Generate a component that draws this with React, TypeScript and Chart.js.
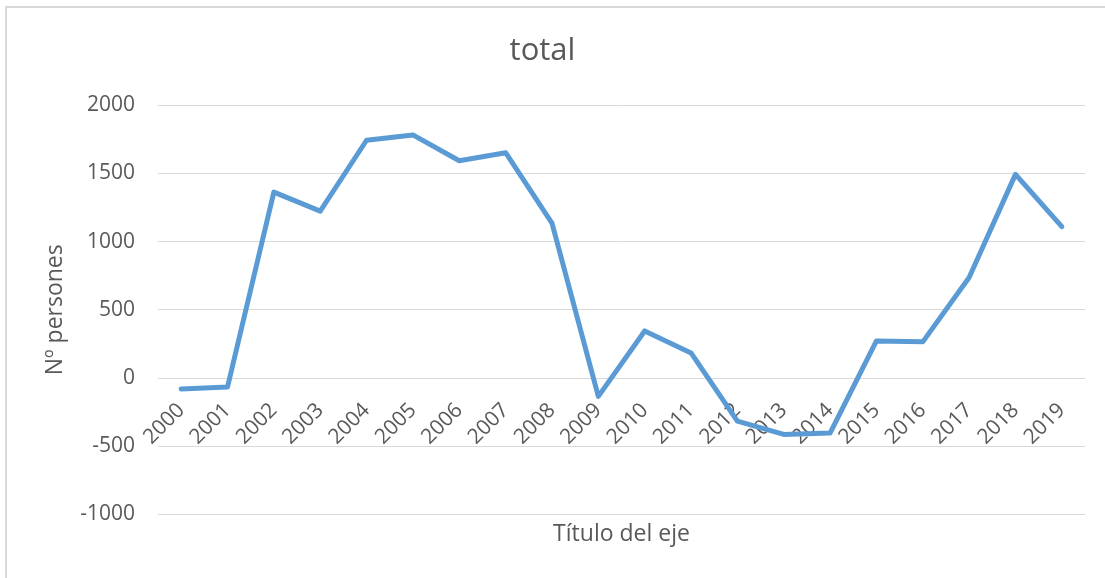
import React, { useEffect, useRef } from "react";
import { Chart, registerables } from "chart.js";

Chart.register(...registerables);

const categories = ["2000","2001","2002","2003","2004","2005","2006","2007","2008","2009","2010","2011","2012","2013","2014","2015","2016","2017","2018","2019"];
const totalValues = [-80, -66, 1363, 1223, 1743, 1782, 1593, 1652, 1135, -135, 345, 184, -316, -414, -404, 272, 265, 737, 1493, 1110];
const chartTitle = "total";
const yAxisTitle = "Nº persones";
const xAxisTitle = "Título del eje";
const yMin = -1000;
const yMax = 2000;
const yStep = 500;

const FONT = "'Open Sans', sans-serif";
const TEXT = "#595959";
const GRID = "#D9D9D9";

export default function App() {
  const ref = useRef<HTMLCanvasElement | null>(null);

  useEffect(() => {
    if (!ref.current) return;
    const chart = new Chart(ref.current, {
      type: "line",
      data: {
        labels: categories,
        datasets: [
          {
            label: chartTitle,
            data: totalValues,
            borderColor: "#5B9BD5",
            backgroundColor: "#5B9BD5",
            borderWidth: 5,
            pointRadius: 0,
            borderJoinStyle: "round",
            borderCapStyle: "round",
            tension: 0,
            xAxisID: "x",
          },
        ],
      },
      options: {
        animation: false,
        responsive: false,
        maintainAspectRatio: false,
        layout: { padding: { left: 0, right: 20, top: 0, bottom: 30 } },
        plugins: {
          legend: { display: false },
          tooltip: { enabled: false },
          title: {
            display: true,
            text: chartTitle,
            color: TEXT,
            font: { family: FONT, size: 31, weight: "normal" },
            padding: { top: 33, bottom: 35 },
          },
        },
        scales: {
          x: {
            type: "category",
            position: { y: 0 } as any,
            offset: true,
            grid: { display: false, drawTicks: false },
            border: { display: false },
            ticks: {
              color: TEXT,
              font: { family: FONT, size: 21 },
              minRotation: 45,
              maxRotation: 45,
              autoSkip: false,
              padding: 20,
            },
            afterFit: (scale: any) => {
              scale.height = 0;
            },
          },
          x2: {
            type: "category",
            position: "bottom",
            offset: true,
            grid: { display: false, drawTicks: false },
            border: { display: false },
            ticks: { display: false },
            title: {
              display: true,
              text: xAxisTitle,
              color: TEXT,
              font: { family: FONT, size: 23 },
              padding: { top: 6, bottom: 0 },
            },
          },
          y: {
            type: "linear",
            min: yMin,
            max: yMax,
            grid: { color: GRID, lineWidth: 1, drawTicks: false },
            border: { display: false },
            ticks: {
              stepSize: yStep,
              color: TEXT,
              font: { family: FONT, size: 21 },
              padding: 23,
              callback: (v: any) => String(v),
            },
            title: {
              display: true,
              text: yAxisTitle,
              color: TEXT,
              font: { family: FONT, size: 23 },
              padding: { top: 42, bottom: 0 },
            },
            afterFit: (scale: any) => {
              scale.width = 158;
            },
          },
        },
      },
    });
    return () => chart.destroy();
  }, []);

  return (
    <div
      style={{
        position: "absolute",
        left: 0,
        top: 0,
        width: 1105,
        height: 578,
        overflow: "hidden",
        background: "#fff",
      }}
    >
      <div
        style={{
          position: "absolute",
          left: 5,
          top: 6,
          width: 1200,
          height: 700,
          borderTop: "2px solid #D9D9D9",
          borderLeft: "2px solid #D9D9D9",
        }}
      />
      <canvas
        ref={ref}
        width={1105}
        height={578}
        style={{ position: "absolute", left: 0, top: 0, width: 1105, height: 578 }}
      />
    </div>
  );
}
